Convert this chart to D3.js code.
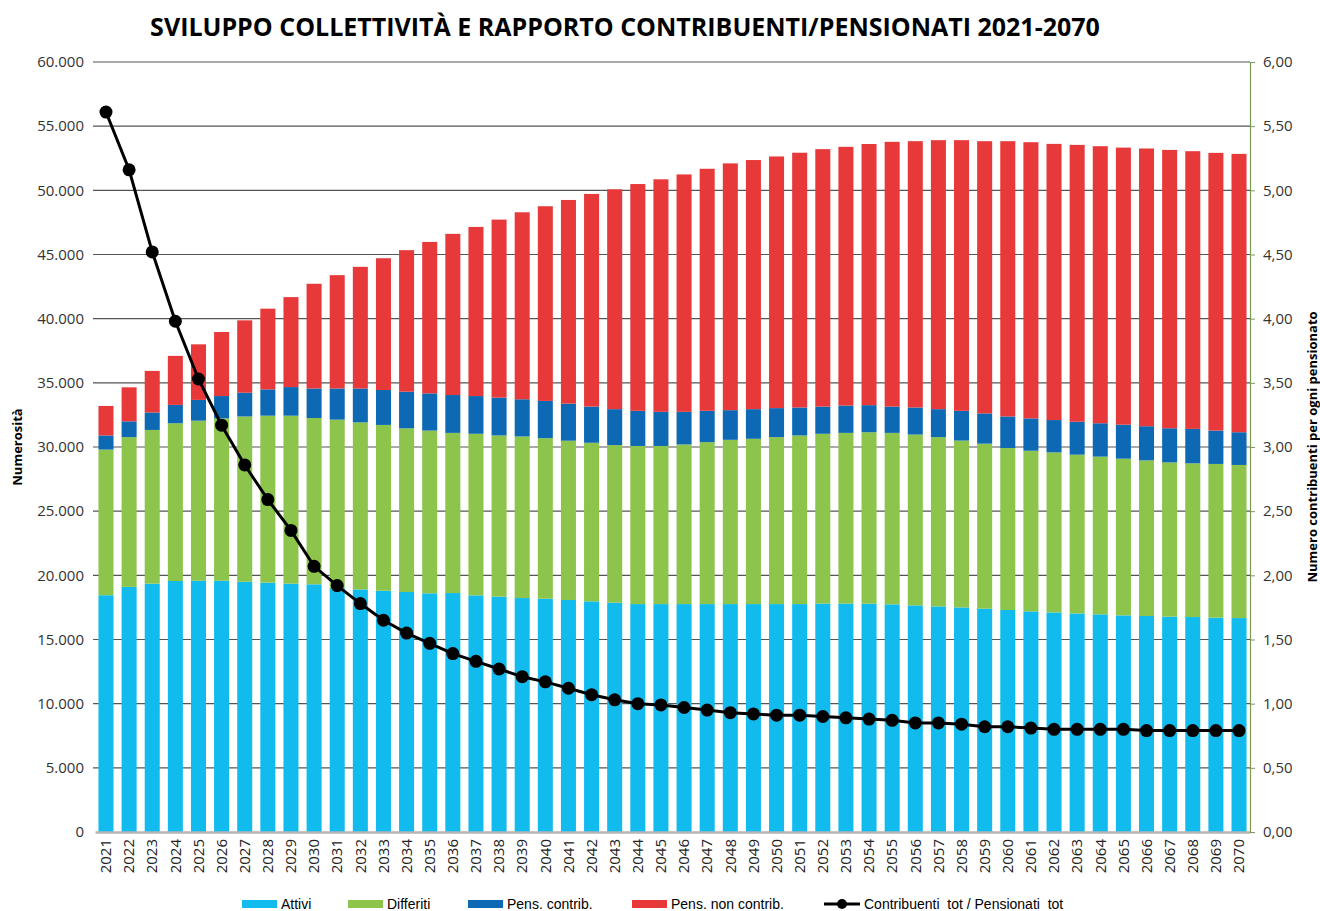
<!DOCTYPE html>
<html>
<head>
<meta charset="utf-8">
<script src="https://cdn.jsdelivr.net/npm/d3@7"></script>
<style>
  body { margin: 0; background: #fff; }
  svg { display: block; }
</style>
</head>
<body>
<div id="chart"></div>
<script>
// data
const years = d3.range(2021, 2071).map(String);
const attivi = [18450,19100,19350,19560,19580,19580,19500,19430,19350,19300,19000,18900,18800,18700,18600,18620,18440,18340,18230,18180,18080,17970,17870,17760,17760,17760,17760,17760,17760,17760,17760,17800,17800,17790,17740,17660,17580,17500,17400,17300,17190,17110,17030,16960,16880,16830,16780,16750,16700,16670];
const differiti = [11350,11670,11980,12290,12470,12650,12880,13010,13090,12960,13130,13020,12920,12760,12680,12480,12590,12560,12590,12510,12410,12360,12280,12320,12320,12440,12620,12800,12880,13010,13140,13230,13300,13360,13360,13310,13190,13000,12860,12620,12520,12470,12370,12290,12210,12130,12020,11980,11980,11930];
const pensContrib = [1100,1230,1360,1430,1620,1740,1850,2050,2230,2300,2430,2640,2720,2850,2900,2950,2940,2950,2900,2900,2890,2820,2800,2740,2660,2540,2440,2310,2310,2260,2180,2120,2130,2110,2050,2110,2180,2320,2360,2460,2520,2520,2570,2600,2650,2660,2660,2680,2600,2550];
const pensNonContrib = [2300,2650,3240,3820,4330,4990,5640,6290,7010,8160,8830,9480,10270,11030,11800,12560,13180,13870,14570,15170,15870,16570,17130,17670,18120,18500,18860,19230,19410,19610,19850,20060,20160,20350,20630,20750,20960,21090,21210,21450,21520,21520,21570,21590,21590,21640,21690,21640,21640,21690];
const rapporto = [5.61,5.16,4.52,3.98,3.53,3.17,2.86,2.59,2.35,2.07,1.92,1.78,1.65,1.55,1.47,1.39,1.33,1.27,1.21,1.17,1.12,1.07,1.03,1.00,0.99,0.97,0.95,0.93,0.92,0.91,0.91,0.90,0.89,0.88,0.87,0.85,0.85,0.84,0.82,0.82,0.81,0.80,0.80,0.80,0.80,0.79,0.79,0.79,0.79,0.79];

const seriesNames = ["Attivi", "Differiti", "Pens. contrib.", "Pens. non contrib."];
const seriesColors = ["#12bbee", "#8cc44c", "#0d69b3", "#e8393a"];
const lineName = "Contribuenti  tot / Pensionati  tot";

const W = 1320, H = 911;
const margin = { left: 95, right: 70, top: 62, bottom: 79 };

const svg = d3.select("#chart").append("svg")
  .attr("width", W).attr("height", H);

// scales
const x = d3.scaleBand().domain(years)
  .range([margin.left, W - margin.right])
  .paddingInner(0.35).paddingOuter(0.15);
const y = d3.scaleLinear().domain([0, 60000]).range([H - margin.bottom, margin.top]);
const y2 = d3.scaleLinear().domain([0, 6]).range([H - margin.bottom, margin.top]);

// build stacked table
const table = years.map((yr, i) => ({
  year: yr, s0: attivi[i], s1: differiti[i], s2: pensContrib[i], s3: pensNonContrib[i]
}));
const stack = d3.stack().keys(["s0", "s1", "s2", "s3"])(table);

const fmtLeft = d => d3.format(",")(d).replace(/,/g, ".");
const fmtRight = d => d.toFixed(2).replace(".", ",");

// gridlines
svg.append("g")
  .selectAll("line")
  .data(y.ticks(12).filter(d => d > 0))
  .join("line")
  .attr("x1", margin.left - 2).attr("x2", W - margin.right)
  .attr("y1", d => y(d)).attr("y2", d => y(d))
  .attr("stroke", "#555").attr("stroke-width", 1.2);

// left axis labels
const gL = svg.append("g")
  .attr("transform", "translate(" + margin.left + ",0)")
  .call(d3.axisLeft(y).ticks(12).tickFormat(fmtLeft).tickSize(0).tickPadding(11));
gL.select(".domain").remove();
gL.selectAll("text").attr("font-family", "Open Sans, sans-serif").attr("font-size", 15).attr("fill", "#333");

// bars
svg.append("g")
  .selectAll("g")
  .data(stack)
  .join("g")
  .attr("fill", (d, i) => seriesColors[i])
  .selectAll("rect")
  .data(d => d)
  .join("rect")
  .attr("x", d => x(d.data.year))
  .attr("width", x.bandwidth())
  .attr("y", d => y(d[1]))
  .attr("height", d => y(d[0]) - y(d[1]));

// bottom axis
const gB = svg.append("g")
  .attr("transform", "translate(0," + (H - margin.bottom) + ")")
  .call(d3.axisBottom(x).tickSize(0).tickPadding(6));
gB.select(".domain").attr("stroke", "#b5b5b5").attr("stroke-width", 2.5);
gB.selectAll("text")
  .attr("font-family", "Open Sans, sans-serif").attr("font-size", 15).attr("fill", "#222")
  .attr("transform", "rotate(-90)")
  .attr("text-anchor", "end")
  .attr("x", -7).attr("y", 0).attr("dy", "0.35em");

// right axis
const gR = svg.append("g")
  .attr("transform", "translate(" + (W - margin.right) + ",0)")
  .call(d3.axisRight(y2).ticks(12).tickFormat(fmtRight).tickSize(5).tickPadding(8));
gR.select(".domain").attr("stroke", "#7a9a5a").attr("stroke-width", 1.2);
gR.selectAll(".tick line").attr("stroke", "#7a9a5a");
gR.selectAll("text").attr("font-family", "Open Sans, sans-serif").attr("font-size", 15).attr("fill", "#333");

// ratio line
const line = d3.line()
  .x((d, i) => x(years[i]) + x.bandwidth() / 2)
  .y(d => y2(d));
svg.append("path")
  .datum(rapporto)
  .attr("d", line)
  .attr("fill", "none")
  .attr("stroke", "#000")
  .attr("stroke-width", 3);
svg.append("g")
  .selectAll("circle")
  .data(rapporto)
  .join("circle")
  .attr("cx", (d, i) => x(years[i]) + x.bandwidth() / 2)
  .attr("cy", d => y2(d))
  .attr("r", 6.5)
  .attr("fill", "#000");

// title
svg.append("text")
  .attr("x", 625).attr("y", 36)
  .attr("text-anchor", "middle")
  .attr("font-family", "Open Sans, sans-serif")
  .attr("font-weight", "bold")
  .attr("font-size", 25)
  .attr("fill", "#000")
  .text("SVILUPPO COLLETTIVITÀ E RAPPORTO CONTRIBUENTI/PENSIONATI 2021-2070");

// axis titles
svg.append("text")
  .attr("transform", "translate(22," + 447 + ") rotate(-90)")
  .attr("text-anchor", "middle")
  .attr("font-family", "Open Sans, sans-serif").attr("font-weight", "bold")
  .attr("font-size", 13).attr("fill", "#000")
  .text("Numerosità");
svg.append("text")
  .attr("transform", "translate(1317," + 447 + ") rotate(-90)")
  .attr("text-anchor", "middle")
  .attr("font-family", "Open Sans, sans-serif").attr("font-weight", "bold")
  .attr("font-size", 13).attr("fill", "#000")
  .text("Numero contribuenti per ogni pensionato");

// legend
const legendX = [242, 348, 468, 632];
const legY = 904;
const leg = svg.append("g")
  .attr("font-family", "Liberation Sans, Arial, sans-serif")
  .attr("font-size", 14);
seriesNames.forEach((name, i) => {
  leg.append("rect")
    .attr("x", legendX[i]).attr("y", legY - 4)
    .attr("width", 35).attr("height", 8)
    .attr("fill", seriesColors[i]);
  leg.append("text")
    .attr("x", legendX[i] + 39).attr("y", legY + 5)
    .attr("fill", "#000")
    .text(name);
});
leg.append("line")
  .attr("x1", 824).attr("x2", 860).attr("y1", legY).attr("y2", legY)
  .attr("stroke", "#000").attr("stroke-width", 3);
leg.append("circle").attr("cx", 842).attr("cy", legY).attr("r", 5).attr("fill", "#000");
leg.append("text")
  .attr("x", 864).attr("y", legY + 5)
  .attr("fill", "#000")
  .attr("xml:space", "preserve")
  .style("white-space", "pre")
  .text(lineName);
</script>
</body>
</html>
